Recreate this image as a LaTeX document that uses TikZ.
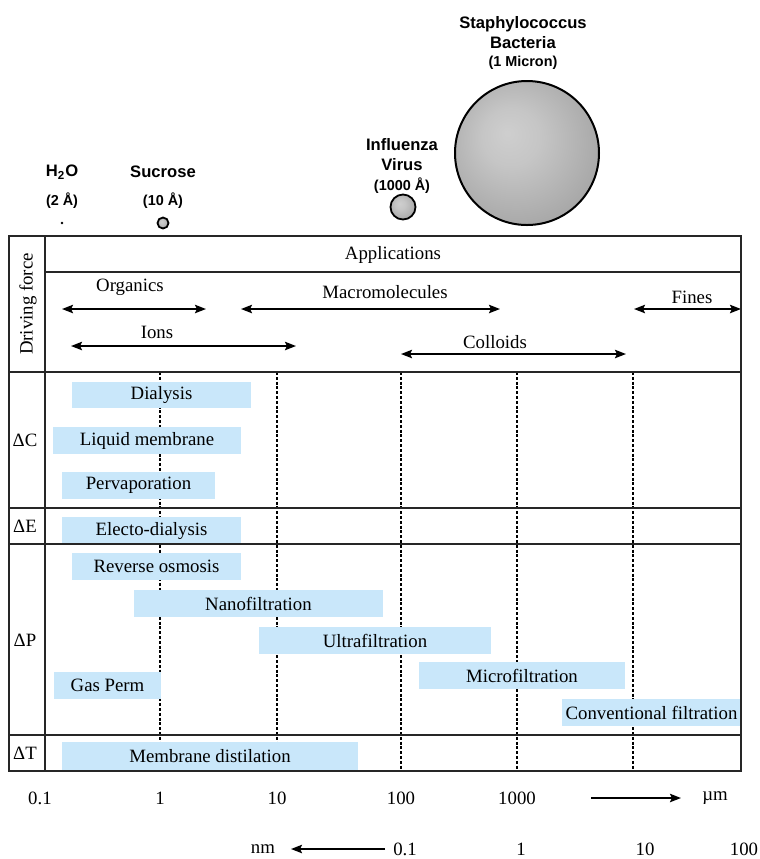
\documentclass[tikz,border=0pt]{standalone}
\usepackage{fontspec}
\setmainfont{Liberation Serif}
\newfontfamily\labelfont{Liberation Sans}
\usepackage{xcolor}
\usetikzlibrary{arrows.meta}

\definecolor{barblue}{RGB}{201,231,250}
% shaded particle (light spot up left)
\pgfdeclareradialshading{particle}{\pgfpoint{-7bp}{7bp}}{color(0bp)=(gray!38); color(10bp)=(gray!45); color(50bp)=(gray!95)}

\begin{document}
\begin{tikzpicture}[x=0.5pt,y=-0.5pt,
  txt/.style={font=\fontsize{9.4}{11}\selectfont, inner sep=0pt},
  tag/.style={font=\labelfont\bfseries\fontsize{8.3}{10}\selectfont, inner sep=0pt},
  size/.style={font=\labelfont\bfseries\fontsize{7.2}{9}\selectfont, inner sep=0pt},
  grid/.style={line width=0.75pt, black!85},
  guide/.style={line width=0.7pt, dash pattern=on 1.5pt off 0.9pt},
  sizerange/.style={line width=0.95pt, {Stealth[length=5.5pt,width=4.2pt,inset=1pt]}-{Stealth[length=5.5pt,width=4.2pt,inset=1pt]}},
  axisarrow/.style={line width=0.95pt, -{Stealth[length=5.5pt,width=4.2pt,inset=1pt]}}]
  \useasboundingbox (0,0) rectangle (760,859);

  % Particles
  \node[tag] (water) at (62,172) {H\textsubscript{2}O};
  \node[size] (watersize) at (62,201) {(2 Å)};
  \fill (62,223) circle (1.4);
  \node[tag] (sucrose) at (163,172) {Sucrose};
  \node[size] (sucrosesize) at (163,201) {(10 Å)};
  \shade[shading=particle] (163,223) circle (5.5);
  \draw[line width=0.9pt] (163,223) circle (5.5);
  \node[tag, align=center] (virus) at (402,155) {Influenza\\Virus};
  \node[size] (virussize) at (402,186) {(1000 Å)};
  \shade[shading=particle] (403,207) circle (12.5);
  \draw[line width=0.9pt] (403,207) circle (12.5);
  \node[tag, align=center] (bacteria) at (523,33) {Staphylococcus\\Bacteria};
  \node[size] (bacteriasize) at (523,63) {(1 Micron)};
  \shade[shading=particle] (527,153) circle (72);
  \draw[line width=1pt] (527,153) circle (72);

  % Guide lines (decades)
  \foreach \x in {160,277,401,517,633}
    \draw[guide] (\x,372) -- (\x,771);

  % Applications
  \node[txt] (applications) at (393,255) {Applications};
  \node[txt] (organics) at (130,287) {Organics};
  \draw[sizerange] (62,309) -- (206,309);
  \node[txt] (macro) at (385,292) {Macromolecules};
  \draw[sizerange] (241,309) -- (500,309);
  \node[txt] (fines) at (692,297) {Fines};
  \draw[sizerange] (634,309) -- (741,309);
  \node[txt] (ions) at (157,332) {Ions};
  \draw[sizerange] (71,346) -- (296,346);
  \node[txt] (colloids) at (495,342) {Colloids};
  \draw[sizerange] (401,354) -- (626,354);

  % Processes, concentration
  \fill[barblue] (72,382) rectangle (251,408);
  \node[txt] (dialysis) at (161.5,395) {Dialysis};
  \fill[barblue] (53,427) rectangle (241,454);
  \node[txt] (liquid) at (147,440.5) {Liquid membrane};
  \fill[barblue] (62,472) rectangle (215,499);
  \node[txt] (perva) at (138.5,485.5) {Pervaporation};
  % electric
  \fill[barblue] (62,517) rectangle (241,544);
  \node[txt] (electro) at (151.5,530.5) {Electo-dialysis};
  % pressure
  \fill[barblue] (72,553) rectangle (241,580);
  \node[txt] (ro) at (156.5,566.5) {Reverse osmosis};
  \fill[barblue] (134,590) rectangle (383,617);
  \node[txt] (nano) at (258.5,603.5) {Nanofiltration};
  \fill[barblue] (259,627) rectangle (491,654);
  \node[txt] (ultra) at (375,640.5) {Ultrafiltration};
  \fill[barblue] (419,662) rectangle (625,689);
  \node[txt] (micro) at (522,675.5) {Microfiltration};
  \fill[barblue] (54,672) rectangle (161,699);
  \node[txt] (gasperm) at (107.5,685.5) {Gas Perm};
  \fill[barblue] (562,699) rectangle (741,726);
  \node[txt] (conventional) at (651.5,712.5) {Conventional filtration};
  % temperature
  \fill[barblue] (62,742) rectangle (358,770);
  \node[txt] (distil) at (210,756) {Membrane distilation};

  % Table
  \draw[grid] (9,236) rectangle (741,771);
  \draw[grid] (45,236) -- (45,771);
  \draw[grid] (45,272) -- (741,272);
  \foreach \y in {372,508,544,735}
    \draw[grid] (9,\y) -- (741,\y);
  \node[txt, rotate=90] (driving) at (28,304) {Driving force};
  \node[txt] (dc) at (25,440) {ΔC};
  \node[txt] (de) at (25,526) {ΔE};
  \node[txt] (dp) at (25,640) {ΔP};
  \node[txt] (dt) at (25,753) {ΔT};

  % Size scale
  \node[txt] (a1) at (40,798) {0.1};
  \node[txt] (a2) at (160,798) {1};
  \node[txt] (a3) at (277,798) {10};
  \node[txt] (a4) at (401,798) {100};
  \node[txt] (a5) at (517,798) {1000};
  \node[txt] (um) at (715,798) {µm};
  \draw[axisarrow] (591,798) -- (681,798);
  \node[txt] (nm) at (263,849) {nm};
  \node[txt] (b1) at (405,849) {0.1};
  \node[txt] (b2) at (521,849) {1};
  \node[txt] (b3) at (645,849) {10};
  \node[txt] (b4) at (744,849) {100};
  \draw[axisarrow] (385,849) -- (291,849);
\end{tikzpicture}
\end{document}
